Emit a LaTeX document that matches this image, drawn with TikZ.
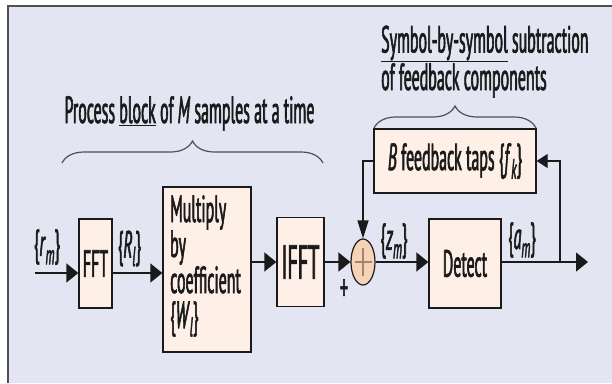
\documentclass[tikz,border=0pt]{standalone}
\usepackage{fontspec}
\setmainfont[FakeStretch=0.42,FakeBold=1.5]{PT Sans}
\usetikzlibrary{arrows.meta,decorations.pathreplacing,shapes.geometric}
\definecolor{bgc}{HTML}{E3E6F2}
\definecolor{boxc}{HTML}{FEF0E6}
\definecolor{sumc}{HTML}{F6D3B6}
\definecolor{plusc}{HTML}{A08670}
\definecolor{framec}{HTML}{505050}
\definecolor{inkc}{HTML}{1A1A1A}
\newcommand{\sbs}[1]{\raisebox{-0.45ex}{\fontsize{28}{28}\selectfont\itshape #1}}
\tikzset{
  blk/.style={draw=inkc, line width=1.3bp, fill=boxc, inner sep=0pt, font=\fontsize{38}{40}\selectfont, text=inkc},
  txt/.style={inner sep=0pt, font=\fontsize{38}{40}\selectfont, text=inkc},
  conn/.style={draw=inkc, line width=1.3bp},
  harr/.style={conn, -{Triangle[length=12bp,width=19bp]}},
  varr/.style={conn, -{Triangle[length=18bp,width=11bp]}},
  brc/.style={draw=framec, line width=1.2bp, decorate},
}
\begin{document}
\begin{tikzpicture}[x=1bp,y=-1bp]
\useasboundingbox (0,0) rectangle (612,383);
\fill[bgc] (8,6) rectangle (612,383);
\draw[framec, line width=1.6bp] (8,383) -- (8,6) -- (612,6);

% blocks
\node[blk, minimum width=33bp, minimum height=89bp] (fft) at (95.5,263.5) {FFT};
\node[blk, minimum width=88bp, minimum height=165bp] (mult) at (207,269.5) {};
\node[blk, minimum width=47bp, minimum height=89bp, font=\fontsize{48}{50}\selectfont] (ifft) at (300.5,262) {IFFT};
\node[blk, minimum width=72bp, minimum height=89bp] (det) at (465,263.5) {Detect};
\node[blk, minimum width=162bp, minimum height=64bp] (fb) at (455,161) {\textit{B} feedback taps \{\textit{f}\sbs{k}\}};
\node[ellipse, draw=inkc, line width=1.2bp, fill=sumc, minimum width=24bp, minimum height=46bp, inner sep=0pt] (sum) at (363,262) {};
\draw[plusc, line width=1.2bp] ([xshift=-8.5bp]sum.center) -- ([xshift=8.5bp]sum.center);
\draw[plusc, line width=1.2bp] ([yshift=-14bp]sum.center) -- ([yshift=14bp]sum.center);

% multiply text
\node[txt, anchor=base west] (m1) at (170,222) {Multiply};
\node[txt, anchor=base west] (m2) at (170,257) {by};
\node[txt, anchor=base west] (m3) at (170,293) {coefficient};
\node[txt, anchor=base west] (m4) at (170,328) {\{\textit{W}\sbs{l}\}};

% connectors
\coordinate (in) at (35,273);
\coordinate (ml) at (0,262);
\coordinate (tap) at (560,262);
\coordinate (out) at (588,262);
\draw[harr] (in) -- (in -| fft.west);
\draw[harr] (in -| fft.east) -- (in -| mult.west);
\draw[harr] (ml -| mult.east) -- (ml -| ifft.west);
\draw[harr] (ml -| ifft.east) -- (sum.west);
\draw[harr] (sum.east) -- (ml -| det.west);
\draw[harr] (ml -| det.east) -- (out);
\draw[conn, -{Triangle[length=11bp,width=14bp]}] (tap) |- (fb.east);
\draw[varr] (fb.west) -| (sum.north);

% labels
\node[txt] (lr) at (47,247) {\{\textit{r}\sbs{m}\}};
\node[txt] (lR) at (129.5,248.5) {\{\textit{R}\sbs{l}\}};
\node[txt] (lz) at (394,241) {\{\textit{z}\sbs{m}\}};
\node[txt] (la) at (522,240) {\{\textit{a}\sbs{m}\}};
\node[txt, font=\fontsize{38}{38}\selectfont] (plus) at (344,290) {+};

% braces and annotations
\draw[brc, decoration={brace, amplitude=22bp}] (62,163) -- (323,163);
\draw[brc, decoration={brace, amplitude=22bp}] (374,128) -- (536,128);
\node[txt, anchor=base] (proc) at (189.5,123) {Process \underline{block} of \textit{M} samples at a time};
\node[txt, anchor=base west, align=left, font=\fontsize{38}{28}\selectfont] (sym) at (381,90) {\underline{Symbol-by-symbol} subtraction\\of feedback components};
\end{tikzpicture}
\end{document}
